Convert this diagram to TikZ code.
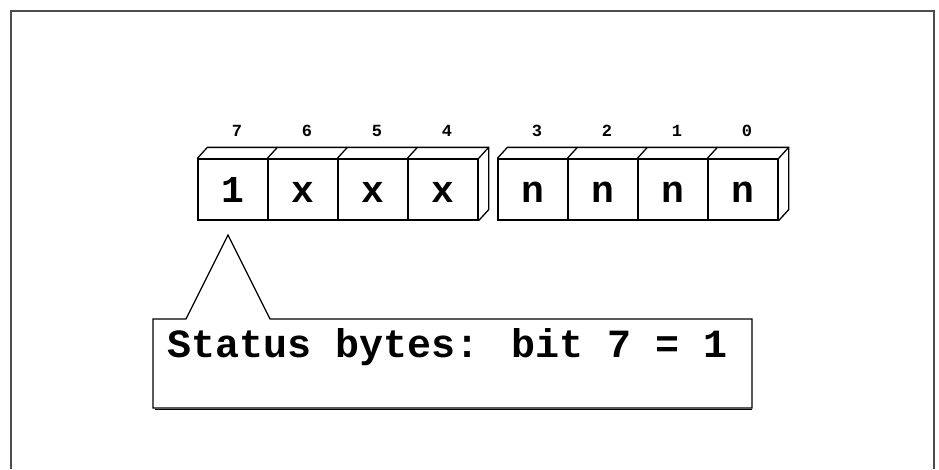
\documentclass[tikz,border=0pt]{standalone}
\usepackage{fontspec}
\usetikzlibrary{calc}
\newfontfamily\pixfont{Liberation Mono}
\begin{document}
\begin{tikzpicture}[x=1pt,y=-1pt,line width=1.3pt,line join=miter,
  cell/.style={draw,minimum width=70pt,minimum height=61pt,inner sep=0pt,
    text height=26pt,text depth=0pt,font=\pixfont\bfseries\fontsize{38}{38}\selectfont},
  bitnum/.style={inner sep=0pt,anchor=base,font=\pixfont\bfseries\fontsize{17}{17}\selectfont},
  frame/.style={draw=black!70,line width=2pt},
  callout/.style={draw,line width=1.3pt},
  caption/.style={inner sep=0pt,font=\pixfont\bfseries\fontsize{40}{40}\selectfont}]
\useasboundingbox (0,0) rectangle (939,469);
\fill[white] (0,0) rectangle (939,469);
% outer frame
\draw[frame] (11,469) -- (11,11) -- (934,11) -- (934,469);
% high nibble
\node[cell] (c7) at (233,189.5) {1};
\node[cell] (c6) at (303,189.5) {x};
\node[cell] (c5) at (373,189.5) {x};
\node[cell] (c4) at (443,189.5) {x};
% low nibble
\node[cell] (c3) at (533,189.5) {n};
\node[cell] (c2) at (603,189.5) {n};
\node[cell] (c1) at (673,189.5) {n};
\node[cell] (c0) at (743,189.5) {n};
% 3D tops and sides
\foreach \a/\b in {c7/c4,c3/c0}{
  \draw (\a.north west) -- ++(10,-11) -- ($(\b.north east)+(10,-11)$)
        -- ($(\b.south east)+(10,-11)$) -- (\b.south east);
  \draw (\b.north east) -- ++(10,-11);
}
\foreach \c in {c6,c5,c4,c2,c1,c0}{
  \draw (\c.north west) -- ++(10,-11);
}
% bit numbers
\foreach \c/\t in {c7/7,c6/6,c5/5,c4/4,c3/3,c2/2,c1/1,c0/0}{
  \node[bitnum] (n\t) at ($(\c.north)+(4,-22)$) {\t};
}
% callout
\draw[callout] (153,319) -- (186,319) -- (228,235) -- (270,319) -- (752,319)
   -- (752,408) -- (153,408) -- cycle;
\draw[line width=1pt] (155,409.5) -- (752,409.5);
\node[caption,anchor=base west] (status) at (167,357) {Status bytes: bit 7 = 1};
\end{tikzpicture}
\end{document}
